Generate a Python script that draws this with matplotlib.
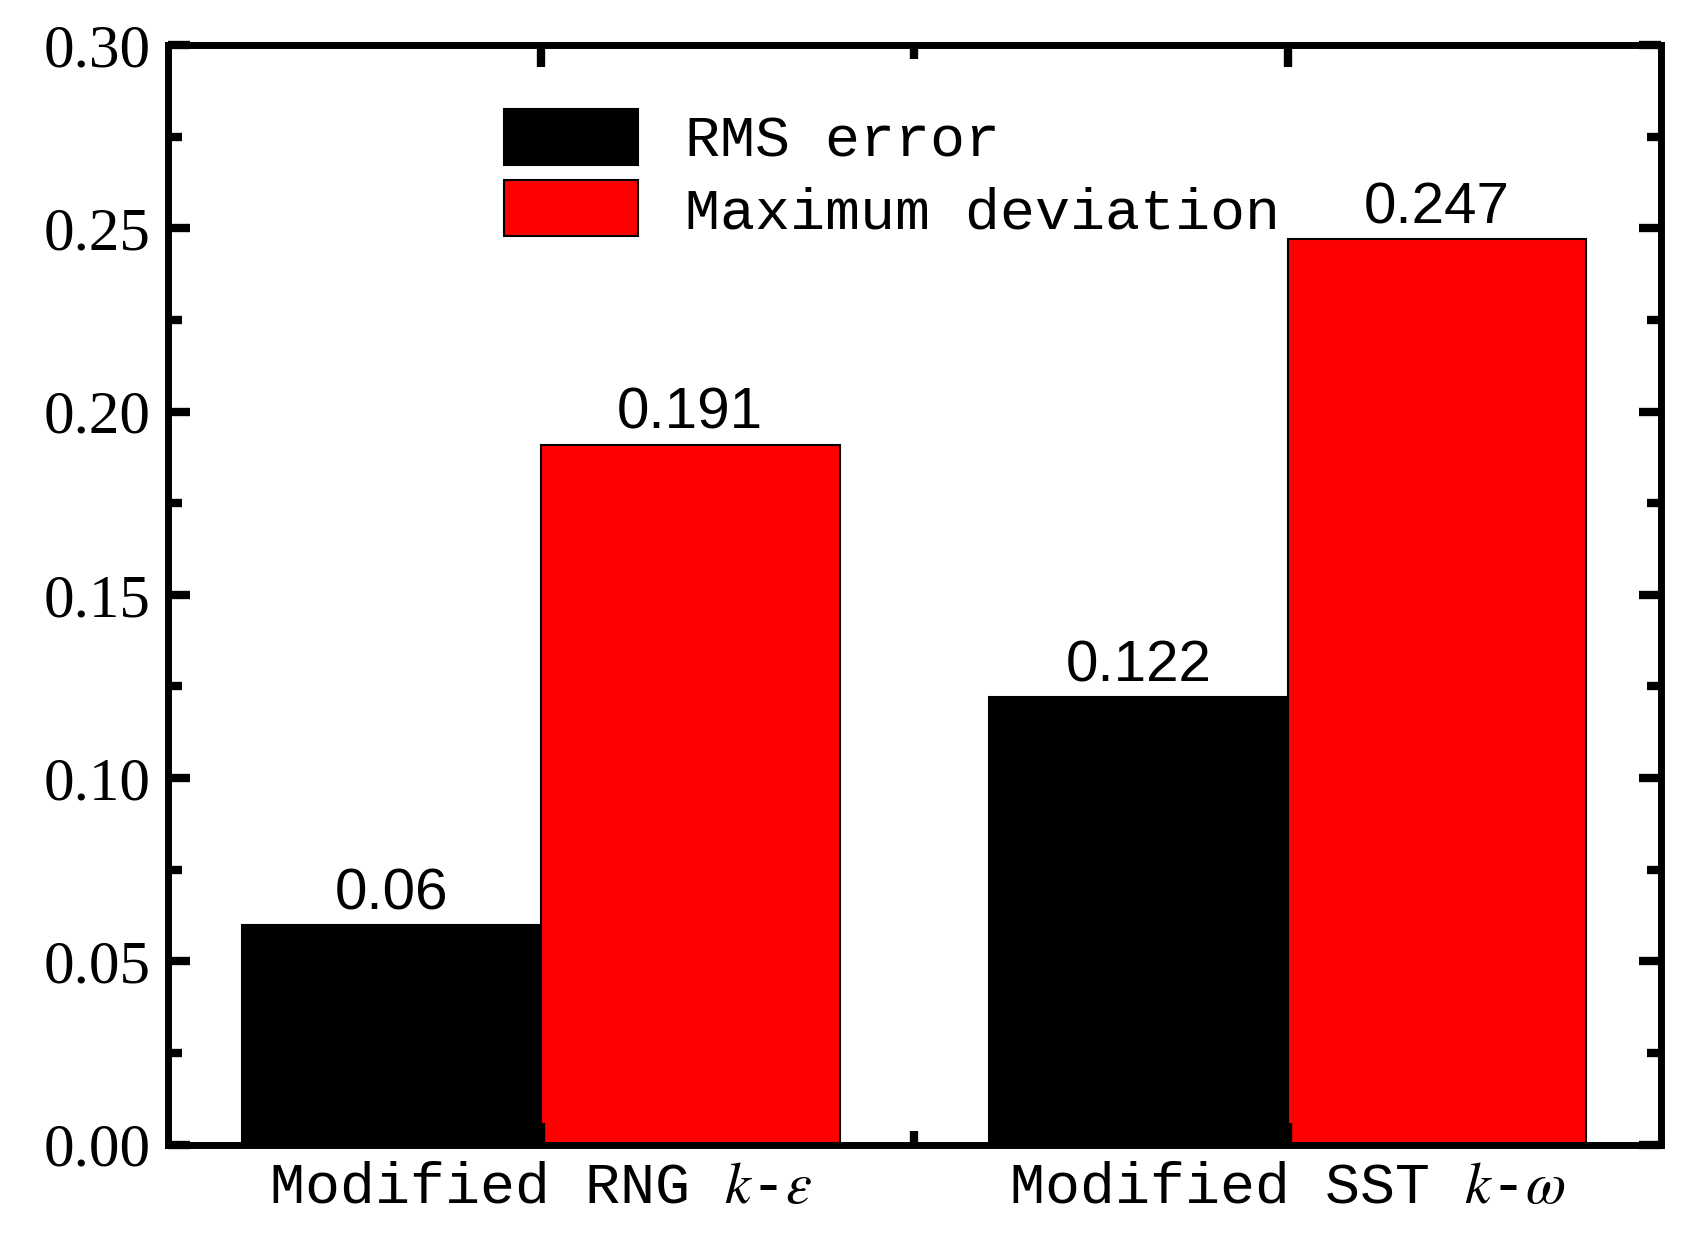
import matplotlib
matplotlib.use("Agg")
import matplotlib.pyplot as plt
import numpy as np

models = ["Modified RNG $k$-$\\varepsilon$", "Modified SST $k$-$\\omega$"]
rms_error = [0.06, 0.122]
max_dev = [0.191, 0.247]
rms_labels = ["0.06", "0.122"]
max_labels = ["0.191", "0.247"]

plt.rcParams["mathtext.fontset"] = "stix"
fig = plt.figure(figsize=(16.93, 12.55), dpi=100)
ax = fig.add_axes([0.099, 0.088, 0.882, 0.876])

x = np.arange(len(models))
w = 0.4
b1 = ax.bar(x - w / 2, rms_error, w, color="black", edgecolor="black", lw=1.5, label="RMS error")
b2 = ax.bar(x + w / 2, max_dev, w, color="#ff0000", edgecolor="black", lw=1.5, label="Maximum deviation")
for bars, labs in [(b1, rms_labels), (b2, max_labels)]:
    for r, t in zip(bars, labs):
        ax.text(r.get_x() + r.get_width() / 2, r.get_height() + 0.001, t, ha="center", va="bottom",
                fontsize=42, family="Liberation Sans")

ax.set_xlim(-0.5, 1.5)
ax.set_ylim(0, 0.30)
ax.set_yticks(np.arange(0, 0.301, 0.05))
ax.set_yticklabels([f"{v:.2f}" for v in np.arange(0, 0.301, 0.05)], family="Liberation Serif", fontsize=44)
ax.set_yticks(np.arange(0.025, 0.3, 0.05), minor=True)
ax.set_xticks(x)
ax.set_xticklabels(models, family="Liberation Mono", fontsize=42)
ax.set_xticks([0.5], minor=True)
ax.tick_params(which="both", direction="in", top=True, right=True, width=6, length=16, pad=12)
ax.tick_params(which="minor", length=10)
for sp in ax.spines.values():
    sp.set_linewidth(5)

ax.legend(loc="upper left", bbox_to_anchor=(0.19, 0.99), frameon=False,
          prop={"family": "Liberation Mono", "size": 42}, handlelength=2.3, handleheight=1.1,
          labelspacing=0.2)
plt.savefig("out.png", dpi=100, facecolor="white")
